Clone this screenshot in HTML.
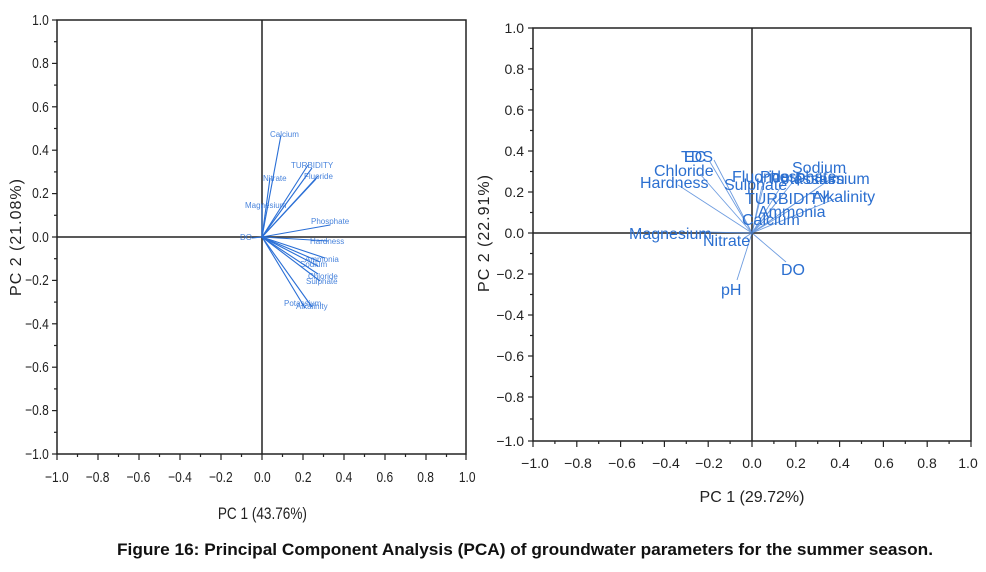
<!DOCTYPE html>
<html><head><meta charset="utf-8"><style>
body{margin:0;background:#fff;width:986px;height:572px;overflow:hidden}
svg{display:block}
</style></head><body>
<svg width="986" height="572" xmlns="http://www.w3.org/2000/svg" font-family="Liberation Sans, sans-serif">
<!-- LEFT PLOT -->
<g stroke="#222" stroke-width="1.5" fill="none">
<rect x="57" y="20" width="409" height="434"/>
<line x1="57" y1="237" x2="466" y2="237"/>
<line x1="262" y1="20" x2="262" y2="454"/>
</g>
<g stroke="#222" stroke-width="1.2">
<line x1="52" y1="20" x2="57" y2="20"/><line x1="54" y1="41.7" x2="57" y2="41.7"/>
<line x1="52" y1="63.4" x2="57" y2="63.4"/><line x1="54" y1="85.1" x2="57" y2="85.1"/>
<line x1="52" y1="106.8" x2="57" y2="106.8"/><line x1="54" y1="128.5" x2="57" y2="128.5"/>
<line x1="52" y1="150.2" x2="57" y2="150.2"/><line x1="54" y1="171.9" x2="57" y2="171.9"/>
<line x1="52" y1="193.6" x2="57" y2="193.6"/><line x1="54" y1="215.3" x2="57" y2="215.3"/>
<line x1="52" y1="237" x2="57" y2="237"/><line x1="54" y1="258.7" x2="57" y2="258.7"/>
<line x1="52" y1="280.4" x2="57" y2="280.4"/><line x1="54" y1="302.1" x2="57" y2="302.1"/>
<line x1="52" y1="323.8" x2="57" y2="323.8"/><line x1="54" y1="345.5" x2="57" y2="345.5"/>
<line x1="52" y1="367.2" x2="57" y2="367.2"/><line x1="54" y1="388.9" x2="57" y2="388.9"/>
<line x1="52" y1="410.6" x2="57" y2="410.6"/><line x1="54" y1="432.3" x2="57" y2="432.3"/>
<line x1="52" y1="454" x2="57" y2="454"/>
<line x1="57" y1="454" x2="57" y2="460"/><line x1="77.5" y1="454" x2="77.5" y2="457"/>
<line x1="98" y1="454" x2="98" y2="460"/><line x1="118.5" y1="454" x2="118.5" y2="457"/>
<line x1="139" y1="454" x2="139" y2="460"/><line x1="159.5" y1="454" x2="159.5" y2="457"/>
<line x1="180" y1="454" x2="180" y2="460"/><line x1="200.5" y1="454" x2="200.5" y2="457"/>
<line x1="221" y1="454" x2="221" y2="460"/><line x1="241.5" y1="454" x2="241.5" y2="457"/>
<line x1="262" y1="454" x2="262" y2="460"/><line x1="282.5" y1="454" x2="282.5" y2="457"/>
<line x1="303" y1="454" x2="303" y2="460"/><line x1="323.5" y1="454" x2="323.5" y2="457"/>
<line x1="344" y1="454" x2="344" y2="460"/><line x1="364.5" y1="454" x2="364.5" y2="457"/>
<line x1="385" y1="454" x2="385" y2="460"/><line x1="405.5" y1="454" x2="405.5" y2="457"/>
<line x1="426" y1="454" x2="426" y2="460"/><line x1="446.5" y1="454" x2="446.5" y2="457"/>
<line x1="466" y1="454" x2="466" y2="460"/>
</g>
<g font-size="15" fill="#222" text-anchor="end" transform="scale(0.8,1)">
<text x="61" y="25">1.0</text><text x="61" y="68">0.8</text><text x="61" y="112">0.6</text>
<text x="61" y="155">0.4</text><text x="61" y="198">0.2</text><text x="61" y="242">0.0</text>
<text x="61" y="285">−0.2</text><text x="61" y="329">−0.4</text><text x="61" y="372">−0.6</text>
<text x="61" y="415">−0.8</text><text x="61" y="459">−1.0</text>
</g>
<g font-size="15" fill="#222" text-anchor="middle" transform="scale(0.8,1)">
<text x="71" y="482">−1.0</text><text x="122" y="482">−0.8</text><text x="173" y="482">−0.6</text>
<text x="225" y="482">−0.4</text><text x="276" y="482">−0.2</text><text x="328" y="482">0.0</text>
<text x="379" y="482">0.2</text><text x="430" y="482">0.4</text><text x="481" y="482">0.6</text>
<text x="532" y="482">0.8</text><text x="584" y="482">1.0</text>
</g>
<text x="328" y="519" font-size="17" fill="#222" text-anchor="middle" transform="scale(0.8,1)">PC 1 (43.76%)</text>
<text transform="translate(21,237) rotate(-90)" font-size="16" fill="#222" text-anchor="middle" letter-spacing="1">PC 2 (21.08%)</text>
<g stroke="#2a6fd6" stroke-width="1.1">
<line x1="262" y1="237" x2="281" y2="135"/><line x1="262" y1="237" x2="270" y2="178"/>
<line x1="262" y1="237" x2="262" y2="205"/>
<line x1="262" y1="237" x2="308" y2="165"/><line x1="262" y1="237" x2="312" y2="168"/>
<line x1="262" y1="237" x2="318" y2="176"/><line x1="262" y1="237" x2="316" y2="179"/>
<line x1="262" y1="237" x2="330" y2="225"/><line x1="262" y1="237" x2="328" y2="241"/>
<line x1="262" y1="237" x2="325" y2="258"/><line x1="262" y1="237" x2="320" y2="262"/>
<line x1="262" y1="237" x2="318" y2="266"/><line x1="262" y1="237" x2="318" y2="274"/>
<line x1="262" y1="237" x2="320" y2="281"/><line x1="262" y1="237" x2="305" y2="308"/>
<line x1="262" y1="237" x2="312" y2="307"/><line x1="262" y1="237" x2="252" y2="238"/>
</g>
<g font-size="8" fill="#2a6fd6" opacity="0.85">
<text x="270" y="137">Calcium</text><text x="291" y="168">TURBIDITY</text>
<text x="304" y="179">Fluoride</text><text x="263" y="181">Nitrate</text>
<text x="245" y="208">Magnesium</text><text x="311" y="224">Phosphate</text>
<text x="310" y="244">Hardness</text><text x="305" y="262">Ammonia</text>
<text x="300" y="267">Sodium</text><text x="308" y="279">Chloride</text>
<text x="306" y="284">Sulphate</text><text x="284" y="306">Potassium</text>
<text x="296" y="309">Alkalinity</text><text x="240" y="240">DO</text>
</g>

<!-- RIGHT PLOT -->
<g stroke="#222" stroke-width="1.5" fill="none">
<rect x="533" y="28" width="438" height="413"/>
<line x1="533" y1="233" x2="971" y2="233"/>
<line x1="752" y1="28" x2="752" y2="441"/>
</g>
<g stroke="#222" stroke-width="1.2">
<line x1="528" y1="28" x2="533" y2="28"/><line x1="528" y1="69" x2="533" y2="69"/>
<line x1="528" y1="110" x2="533" y2="110"/><line x1="528" y1="151" x2="533" y2="151"/>
<line x1="528" y1="192" x2="533" y2="192"/><line x1="528" y1="233" x2="533" y2="233"/>
<line x1="528" y1="274" x2="533" y2="274"/><line x1="528" y1="315" x2="533" y2="315"/>
<line x1="528" y1="356" x2="533" y2="356"/><line x1="528" y1="397" x2="533" y2="397"/>
<line x1="528" y1="441" x2="533" y2="441"/>
<line x1="530" y1="48.5" x2="533" y2="48.5"/><line x1="530" y1="89.5" x2="533" y2="89.5"/>
<line x1="530" y1="130.5" x2="533" y2="130.5"/><line x1="530" y1="171.5" x2="533" y2="171.5"/>
<line x1="530" y1="212.5" x2="533" y2="212.5"/><line x1="530" y1="253.5" x2="533" y2="253.5"/>
<line x1="530" y1="294.5" x2="533" y2="294.5"/><line x1="530" y1="335.5" x2="533" y2="335.5"/>
<line x1="530" y1="376.5" x2="533" y2="376.5"/><line x1="530" y1="419" x2="533" y2="419"/>
<line x1="533" y1="441" x2="533" y2="447"/><line x1="576.8" y1="441" x2="576.8" y2="447"/>
<line x1="620.6" y1="441" x2="620.6" y2="447"/><line x1="664.4" y1="441" x2="664.4" y2="447"/>
<line x1="708.2" y1="441" x2="708.2" y2="447"/><line x1="752" y1="441" x2="752" y2="447"/>
<line x1="795.8" y1="441" x2="795.8" y2="447"/><line x1="839.6" y1="441" x2="839.6" y2="447"/>
<line x1="883.4" y1="441" x2="883.4" y2="447"/><line x1="927.2" y1="441" x2="927.2" y2="447"/>
<line x1="971" y1="441" x2="971" y2="447"/>
<line x1="554.9" y1="441" x2="554.9" y2="444"/><line x1="598.7" y1="441" x2="598.7" y2="444"/>
<line x1="642.5" y1="441" x2="642.5" y2="444"/><line x1="686.3" y1="441" x2="686.3" y2="444"/>
<line x1="730.1" y1="441" x2="730.1" y2="444"/><line x1="773.9" y1="441" x2="773.9" y2="444"/>
<line x1="817.7" y1="441" x2="817.7" y2="444"/><line x1="861.5" y1="441" x2="861.5" y2="444"/>
<line x1="905.3" y1="441" x2="905.3" y2="444"/><line x1="949.1" y1="441" x2="949.1" y2="444"/>
</g>
<g font-size="14" fill="#222" text-anchor="end">
<text x="524" y="33">1.0</text><text x="524" y="74">0.8</text><text x="524" y="115">0.6</text>
<text x="524" y="156">0.4</text><text x="524" y="197">0.2</text><text x="524" y="238">0.0</text>
<text x="524" y="279">−0.2</text><text x="524" y="320">−0.4</text><text x="524" y="361">−0.6</text>
<text x="524" y="402">−0.8</text><text x="524" y="446">−1.0</text>
</g>
<g font-size="14" fill="#222" text-anchor="middle">
<text x="535" y="468">−1.0</text><text x="578" y="468">−0.8</text><text x="622" y="468">−0.6</text>
<text x="666" y="468">−0.4</text><text x="709" y="468">−0.2</text><text x="752" y="468">0.0</text>
<text x="796" y="468">0.2</text><text x="840" y="468">0.4</text><text x="884" y="468">0.6</text>
<text x="927" y="468">0.8</text><text x="968" y="468">1.0</text>
</g>
<text x="752" y="502" font-size="16" fill="#222" text-anchor="middle">PC 1 (29.72%)</text>
<text transform="translate(489,233) rotate(-90)" font-size="16" fill="#222" text-anchor="middle" letter-spacing="1">PC 2 (22.91%)</text>
<g stroke="#4a84d8" stroke-width="0.9" opacity="0.8">
<line x1="752" y1="233" x2="678" y2="185"/><line x1="752" y1="233" x2="700" y2="174"/>
<line x1="752" y1="233" x2="710" y2="162"/><line x1="752" y1="233" x2="714" y2="160"/>
<line x1="752" y1="233" x2="700" y2="232"/><line x1="752" y1="233" x2="744" y2="238"/>
<line x1="752" y1="233" x2="737" y2="280"/><line x1="752" y1="233" x2="786" y2="262"/>
<line x1="752" y1="233" x2="800" y2="173"/><line x1="752" y1="233" x2="832" y2="178"/>
<line x1="752" y1="233" x2="842" y2="196"/><line x1="752" y1="233" x2="790" y2="210"/>
<line x1="752" y1="233" x2="770" y2="215"/><line x1="752" y1="233" x2="780" y2="198"/>
<line x1="752" y1="233" x2="785" y2="180"/><line x1="752" y1="233" x2="765" y2="180"/>
<line x1="752" y1="233" x2="762" y2="186"/><line x1="752" y1="233" x2="815" y2="190"/>
</g>
<g font-size="16" fill="#2b6fd0">
<text x="681" y="162">TDS</text><text x="684" y="162">EC</text>
<text x="654" y="176">Chloride</text><text x="640" y="188">Hardness</text>
<text x="732" y="182">Fluoride</text><text x="724" y="190">Sulphate</text>
<text x="760" y="182">Phosphate</text><text x="770" y="184">Potassium</text>
<text x="792" y="173">Sodium</text><text x="795" y="184">Potassium</text>
<text x="812" y="202">Alkalinity</text><text x="745" y="204">TURBIDITY</text>
<text x="758" y="217">Ammonia</text><text x="742" y="225">Calcium</text>
<text x="629" y="239">Magnesium</text><text x="703" y="246">Nitrate</text>
<text x="781" y="275">DO</text><text x="721" y="295">pH</text>
</g>

<text x="117" y="555" font-size="17" font-weight="bold" fill="#111" textLength="816" lengthAdjust="spacingAndGlyphs">Figure 16: Principal Component Analysis (PCA) of groundwater parameters for the summer season.</text>
</svg>
</body></html>
